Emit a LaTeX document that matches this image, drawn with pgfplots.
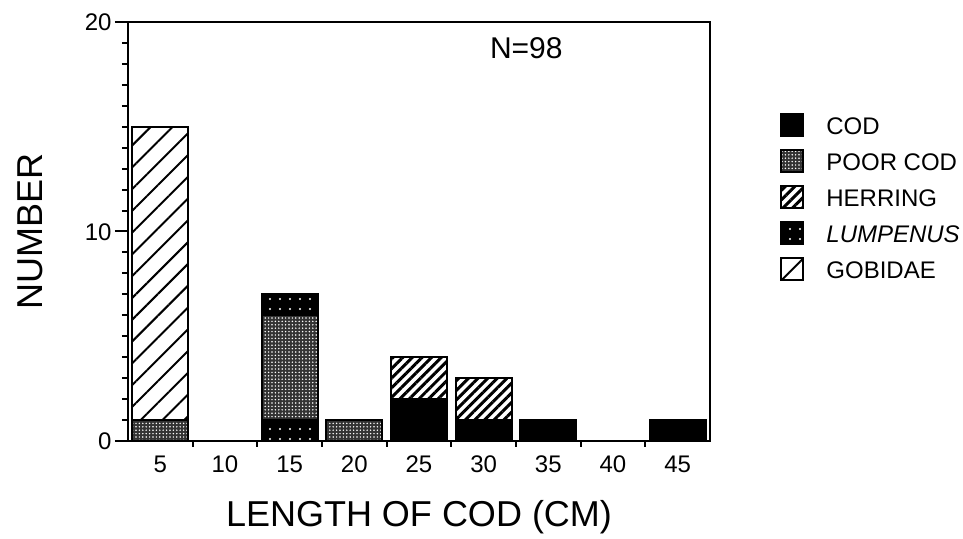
\documentclass[border=0pt]{standalone}
\usepackage{fontspec}
\setmainfont{Liberation Sans}
\usepackage{pgfplots}
\pgfplotsset{compat=1.18}
\usetikzlibrary{patterns,patterns.meta}
\pgfplotsset{
  mylegend/.style={legend image code/.code={\draw[##1] (0pt,-5.5pt) rectangle (11pt,5.5pt);}},
  codstyle/.style={draw=black, line width=1pt, fill=black},
  poorstyle/.style={draw=black, line width=1pt, fill=black!80, postaction={pattern={Dots[distance=1.7pt, radius=0.42pt]}, pattern color=white}},
  herrstyle/.style={draw=black, line width=1pt, fill=white, postaction={pattern={Lines[angle=45, distance=3.4pt, line width=1.5pt]}, pattern color=black}},
  lumpstyle/.style={draw=black, line width=1pt, fill=black, postaction={pattern={Dots[distance=5pt, radius=0.6pt]}, pattern color=white}},
  gobstyle/.style={draw=black, line width=1pt, fill=white, postaction={pattern={Lines[angle=45, distance=7.7pt, line width=1pt]}, pattern color=black}},
}
\begin{document}
\begin{tikzpicture}
\path[use as bounding box] (-64pt,-49pt) rectangle (417.5pt,220.5pt);
\begin{axis}[
  at={(0,0)}, anchor=south west,
  scale only axis, width=291pt, height=209.5pt,
  xmin=2.5, xmax=47.5, ymin=0, ymax=20,
  ybar stacked, bar width=28pt,
  xtick={5,10,...,45},
  minor xtick={7.5,12.5,...,42.5},
  ytick={0,10,20},
  minor y tick num=9,
  tick align=outside,
  xtick pos=bottom, ytick pos=left,
  major tick length=6.5pt, minor tick length=3pt,
  major x tick style={draw=none},
  tick style={black, line width=1pt},
  axis line style={line width=1.2pt},
  ticklabel style={font=\fontsize{12}{14}\selectfont, inner sep=0pt, text height=8.6pt, text depth=0pt},
  xticklabel style={anchor=north, yshift=-0.5pt},
  yticklabel style={anchor=east, xshift=-1.5pt},
  /pgf/number format/assume math mode=true,
  xlabel={LENGTH OF COD (CM)},
  ylabel={NUMBER},
  label style={font=\fontsize{18}{20}\selectfont},
  xlabel style={at={(axis description cs:0.5,-0.1814)}, anchor=center},
  ylabel style={at={(axis description cs:-0.1684,0.5)}, anchor=center},
  legend style={at={(axis description cs:1.1203,0.7828)}, anchor=north west,
    draw=none, fill=none, inner sep=0pt, row sep=6pt,
    font=\fontsize{12}{14}\selectfont,
    nodes={inner sep=0pt, text height=8.6pt, text depth=0pt, anchor=west},
    /tikz/every odd column/.append style={column sep=11pt}},
  legend cell align=left,
]
% bottom: cod
\addplot[codstyle, forget plot] coordinates {(5,0) (10,0) (15,0) (20,0) (25,2) (30,1) (35,1) (40,0) (45,1)};
% lumpenus (bottom of 15)
\addplot[lumpstyle, forget plot] coordinates {(5,0) (10,0) (15,1) (20,0) (25,0) (30,0) (35,0) (40,0) (45,0)};
% poor cod
\addplot[poorstyle, forget plot] coordinates {(5,1) (10,0) (15,5) (20,1) (25,0) (30,0) (35,0) (40,0) (45,0)};
% herring
\addplot[herrstyle, forget plot] coordinates {(5,0) (10,0) (15,0) (20,0) (25,2) (30,2) (35,0) (40,0) (45,0)};
% lumpenus (top of 15)
\addplot[lumpstyle, forget plot] coordinates {(5,0) (10,0) (15,1) (20,0) (25,0) (30,0) (35,0) (40,0) (45,0)};
% gobidae
\addplot[gobstyle, forget plot] coordinates {(5,14) (10,0) (15,0) (20,0) (25,0) (30,0) (35,0) (40,0) (45,0)};

\node[font=\fontsize{15}{17}\selectfont] at (axis cs:33.3,18.75) {N=98};

\addlegendimage{mylegend, codstyle}
\addlegendentry{COD}
\addlegendimage{mylegend, poorstyle}
\addlegendentry{POOR COD}
\addlegendimage{mylegend, herrstyle}
\addlegendentry{HERRING}
\addlegendimage{mylegend, lumpstyle}
\addlegendentry{\textit{LUMPENUS}}
\addlegendimage{mylegend, gobstyle}
\addlegendentry{GOBIDAE}
\end{axis}
\end{tikzpicture}
\end{document}
